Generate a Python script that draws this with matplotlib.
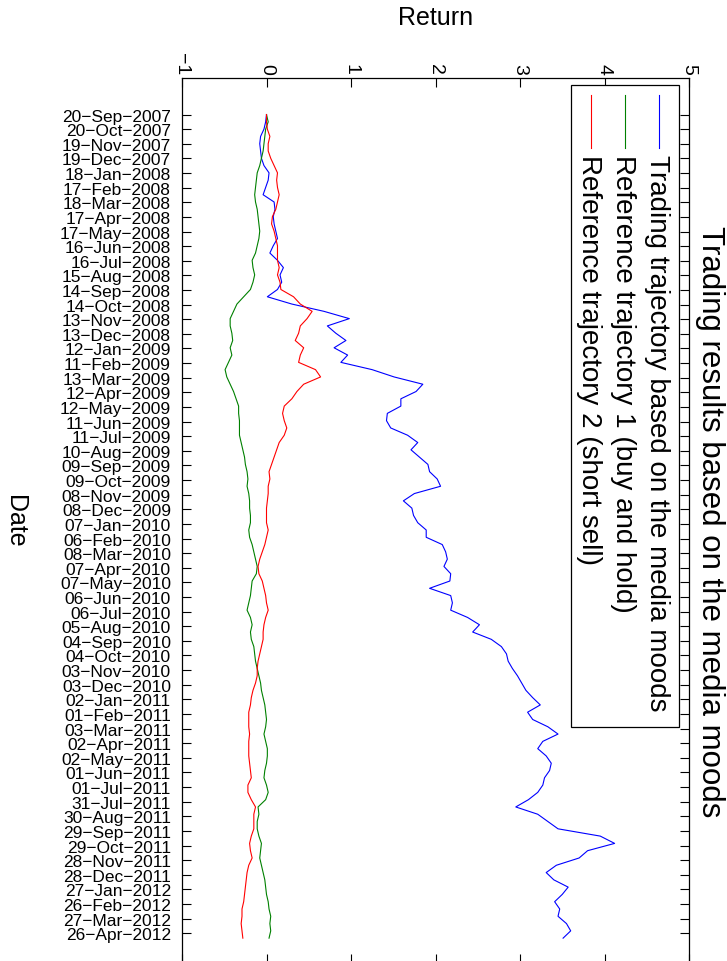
import numpy as np
import pandas as pd
import matplotlib
matplotlib.use("Agg")
import matplotlib.pyplot as plt
from matplotlib.patches import Rectangle
from matplotlib.lines import Line2D

plt.rcParams["font.family"] = ["Liberation Sans", "DejaVu Sans"]

# cumulative returns, sampled roughly every 15 days from 20-Sep-2007 to 06-May-2012
START, END = "2007-09-20", "2012-05-06"
TRADING = [
    0.00, -0.01, -0.03, -0.07, -0.08, -0.07, -0.06, -0.03, 0.03, 0.02,
    -0.01, -0.04, 0.09, 0.10, 0.08, 0.09, 0.11, 0.13, 0.08, 0.04,
    0.13, 0.20, 0.16, 0.18, 0.13, 0.01, 0.30, 0.68, 0.98, 0.72,
    0.82, 0.94, 0.80, 0.96, 0.88, 1.25, 1.51, 1.85, 1.77, 1.59,
    1.59, 1.43, 1.42, 1.47, 1.67, 1.79, 1.71, 1.81, 1.91, 1.93,
    2.02, 2.06, 1.75, 1.62, 1.72, 1.74, 1.79, 1.89, 1.89, 2.08,
    2.12, 2.14, 2.10, 2.18, 2.17, 1.93, 2.18, 2.20, 2.18, 2.38,
    2.52, 2.44, 2.66, 2.78, 2.84, 2.86, 2.91, 2.97, 3.02, 3.07,
    3.15, 3.24, 3.09, 3.15, 3.33, 3.45, 3.27, 3.21, 3.31, 3.37,
    3.35, 3.29, 3.27, 3.21, 3.10, 2.95, 3.21, 3.33, 3.45, 3.95,
    4.12, 3.80, 3.70, 3.43, 3.31, 3.40, 3.57, 3.50, 3.41, 3.47,
    3.45, 3.55, 3.60, 3.51,
]
BUY_HOLD = [
    0.00, 0.02, -0.01, -0.02, -0.03, -0.04, -0.06, -0.08, -0.11, -0.12,
    -0.13, -0.14, -0.13, -0.11, -0.10, -0.09, -0.08, -0.09, -0.11, -0.13,
    -0.17, -0.16, -0.14, -0.16, -0.19, -0.27, -0.35, -0.39, -0.43, -0.43,
    -0.41, -0.40, -0.43, -0.41, -0.45, -0.49, -0.47, -0.43, -0.39, -0.36,
    -0.33, -0.33, -0.32, -0.32, -0.32, -0.30, -0.28, -0.26, -0.25, -0.23,
    -0.22, -0.23, -0.21, -0.20, -0.20, -0.19, -0.19, -0.21, -0.20, -0.17,
    -0.15, -0.13, -0.11, -0.12, -0.17, -0.18, -0.19, -0.21, -0.23, -0.19,
    -0.17, -0.19, -0.18, -0.15, -0.14, -0.13, -0.11, -0.09, -0.07, -0.06,
    -0.04, -0.02, -0.01, 0.00, -0.01, -0.03, -0.01, 0.01, 0.01, 0.00,
    -0.02, -0.03, 0.00, 0.02, -0.01, -0.10, -0.09, -0.11, -0.11, -0.09,
    -0.06, -0.07, -0.08, -0.06, -0.04, -0.02, -0.01, 0.00, 0.02, 0.03,
    0.05, 0.04, 0.05, 0.03,
]
SHORT_SELL = [
    0.00, 0.00, 0.01, 0.04, 0.02, 0.02, 0.05, 0.09, 0.13, 0.12,
    0.13, 0.15, 0.13, 0.11, 0.07, 0.06, 0.09, 0.11, 0.13, 0.13,
    0.13, 0.15, 0.13, 0.16, 0.17, 0.32, 0.40, 0.54, 0.48, 0.40,
    0.38, 0.34, 0.44, 0.40, 0.38, 0.58, 0.64, 0.44, 0.36, 0.30,
    0.21, 0.19, 0.21, 0.24, 0.21, 0.15, 0.12, 0.09, 0.06, 0.03,
    0.04, 0.02, 0.02, 0.01, 0.00, 0.00, 0.00, 0.02, 0.00, -0.02,
    -0.05, -0.08, -0.10, -0.09, -0.05, -0.03, -0.01, 0.00, 0.02, -0.01,
    -0.03, -0.04, -0.04, -0.06, -0.08, -0.10, -0.11, -0.11, -0.13, -0.16,
    -0.18, -0.19, -0.21, -0.21, -0.21, -0.20, -0.21, -0.21, -0.21, -0.20,
    -0.19, -0.18, -0.22, -0.22, -0.18, -0.13, -0.15, -0.15, -0.15, -0.18,
    -0.20, -0.19, -0.17, -0.21, -0.23, -0.24, -0.25, -0.26, -0.27, -0.29,
    -0.29, -0.30, -0.29, -0.28,
]
SERIES = [
    ("Trading trajectory based on the media moods", TRADING, "#0000ff"),
    ("Reference trajectory 1 (buy and hold)", BUY_HOLD, "#008000"),
    ("Reference trajectory 2 (short sell)", SHORT_SELL, "#ff0000"),
]
RETURN_TICKS = [-1, 0, 1, 2, 3, 4, 5]
DATE_TICKS = pd.date_range("2007-09-20", "2012-04-26", freq="30D")
DATE_LABELS = [d.strftime("%d\u2212%b\u2212%Y") for d in DATE_TICKS]

dates = pd.date_range(START, END, periods=len(TRADING))

fig = plt.figure(figsize=(7.27, 9.62), dpi=100)
ax = fig.add_axes([182 / 727, -2 / 962, 507 / 727, 885 / 962])

for name, vals, col in SERIES:
    ax.plot(vals, dates, color=col, lw=0.8)

ax.set_xlim(-1, 5)
ax.set_ylim(pd.Timestamp("2012-06-26"), pd.Timestamp("2007-07-07"))
ax.set_xticks(RETURN_TICKS)
ax.set_yticks(DATE_TICKS)
ax.set_yticklabels(DATE_LABELS)
ax.xaxis.tick_top()
ax.tick_params(axis="x", top=True, bottom=True, labeltop=True, labelbottom=False,
               direction="in", length=6.5, width=0.8, labelsize=14, labelrotation=-90, pad=3)
ax.tick_params(axis="y", left=True, right=True, direction="in", length=6.5, width=0.8,
               labelsize=12.5, pad=8)
for s in ax.spines.values():
    s.set_linewidth(0.9)

# legend box drawn by hand so its text can run top-to-bottom
ax.add_patch(Rectangle((0.767, 0.2667), 0.213, 0.725, transform=ax.transAxes,
                       facecolor="white", edgecolor="black", lw=0.9, zorder=5))
for (name, vals, col), xc in zip(SERIES, [0.941, 0.874, 0.807]):
    ax.add_line(Line2D([xc, xc], [0.981, 0.921], transform=ax.transAxes,
                       color=col, lw=0.8, zorder=6))
    ax.text(xc - 0.004, 0.914, name, transform=ax.transAxes, rotation=-90,
            ha="center", va="top", fontsize=20, zorder=6)

ax.text(1.041, 0.5, "Trading results based on the media moods", transform=ax.transAxes,
        rotation=-90, ha="center", va="center", fontsize=22.5)
ax.text(0.5, 1.069, "Return", transform=ax.transAxes, ha="center", va="center", fontsize=18)
ax.text(-0.33, 0.5, "Date", transform=ax.transAxes, rotation=-90,
        ha="center", va="center", fontsize=18)

fig.savefig("out.png", dpi=100)
